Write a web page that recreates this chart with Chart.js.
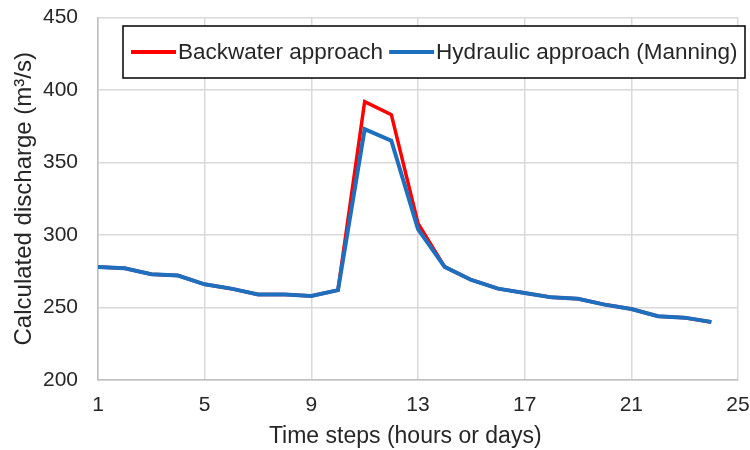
<!DOCTYPE html>
<html>
<head>
<meta charset="utf-8">
<script src="https://cdn.jsdelivr.net/npm/chart.js@4/dist/chart.umd.min.js"></script>
<style>
  html, body { margin: 0; padding: 0; background: #fff; }
  #wrap { width: 750px; height: 450px; }
</style>
</head>
<body>
<div id="wrap"><canvas id="chart" width="750" height="450"></canvas></div>
<script>
const timeSteps = [1, 2, 3, 4, 5, 6, 7, 8, 9, 10, 11, 12, 13, 14, 15, 16, 17, 18, 19, 20, 21, 22, 23, 24];
const backwater = [278, 277, 273, 272, 266, 263, 259, 259, 258, 262, 392, 383, 308, 278, 269, 263, 260, 257, 256, 252, 249, 244, 243, 240];
const hydraulic = [278, 277, 273, 272, 266, 263, 259, 259, 258, 262, 373, 365, 304, 278, 269, 263, 260, 257, 256, 252, 249, 244, 243, 240];
const seriesNames = ["Backwater approach", "Hydraulic approach (Manning)"];
const seriesColors = ["#ff0000", "#1f6fbf"];
const xTicks = [1, 5, 9, 13, 17, 21, 25];
const yTicks = [200, 250, 300, 350, 400, 450];

const FONT = "'Liberation Sans', Arial, sans-serif";
const textColor = "#262626";

const toPoints = vals => vals.map((v, i) => ({ x: timeSteps[i], y: v }));

// boxed legend like the Excel one
const boxLegend = {
  id: "boxLegend",
  afterDraw(chart) {
    const ctx = chart.ctx;
    const left = 123, top = 26, right = 745, bottom = 78;
    const midY = (top + bottom) / 2;
    ctx.save();
    ctx.fillStyle = "#fff";
    ctx.fillRect(left, top, right - left, bottom - top);
    ctx.strokeStyle = "#000";
    ctx.lineWidth = 1.5;
    ctx.strokeRect(left, top, right - left, bottom - top);
    ctx.font = "22.5px " + FONT;
    ctx.textBaseline = "middle";
    ctx.fillStyle = textColor;
    let x = left + 8;
    chart.data.datasets.forEach(ds => {
      ctx.strokeStyle = ds.borderColor;
      ctx.lineWidth = 4;
      ctx.beginPath();
      ctx.moveTo(x, midY);
      ctx.lineTo(x + 45, midY);
      ctx.stroke();
      x += 47;
      ctx.fillText(ds.label, x, midY + 1);
      x += ctx.measureText(ds.label).width + 6;
    });
    ctx.restore();
  }
};

new Chart(document.getElementById("chart"), {
  type: "line",
  data: {
    datasets: [
      {
        label: seriesNames[0],
        data: toPoints(backwater),
        borderColor: seriesColors[0],
        borderWidth: 3.5,
        pointRadius: 0,
        tension: 0,
        order: 2
      },
      {
        label: seriesNames[1],
        data: toPoints(hydraulic),
        borderColor: seriesColors[1],
        borderWidth: 4,
        pointRadius: 0,
        tension: 0,
        order: 1
      }
    ]
  },
  options: {
    responsive: false,
    animation: false,
    layout: { padding: { top: 17.5, right: 12, left: 0, bottom: 0 } },
    plugins: {
      legend: { display: false },
      tooltip: { enabled: false }
    },
    scales: {
      x: {
        type: "linear",
        min: 1,
        max: 25,
        afterBuildTicks: s => { s.ticks = xTicks.map(v => ({ value: v })); },
        afterFit: s => { s.height = 70; s.paddingLeft = 0; s.paddingRight = 0; },
        grid: { color: "#d9d9d9", lineWidth: 1.5, drawTicks: false },
        border: { color: "#bfbfbf", width: 1.5 },
        ticks: { color: textColor, font: { family: FONT, size: 21 }, padding: 13, maxRotation: 0 },
        title: {
          display: true,
          text: "Time steps (hours or days)    ",
          color: textColor,
          font: { family: FONT, size: 23 },
          padding: { top: 0, bottom: 0 }
        }
      },
      y: {
        min: 200,
        max: 450,
        afterBuildTicks: s => { s.ticks = yTicks.map(v => ({ value: v })); },
        afterFit: s => { s.width = 98; s.paddingTop = 0; s.paddingBottom = 0; },
        grid: { color: "#d9d9d9", lineWidth: 1.5, drawTicks: false },
        border: { color: "#bfbfbf", width: 1.5 },
        ticks: { color: textColor, font: { family: FONT, size: 21 }, padding: 20 },
        title: {
          display: true,
          text: "Calculated discharge (m³/s)",
          color: textColor,
          font: { family: FONT, size: 24 },
          padding: { top: 10, bottom: 0 }
        }
      }
    }
  },
  plugins: [boxLegend]
});
</script>
</body>
</html>
